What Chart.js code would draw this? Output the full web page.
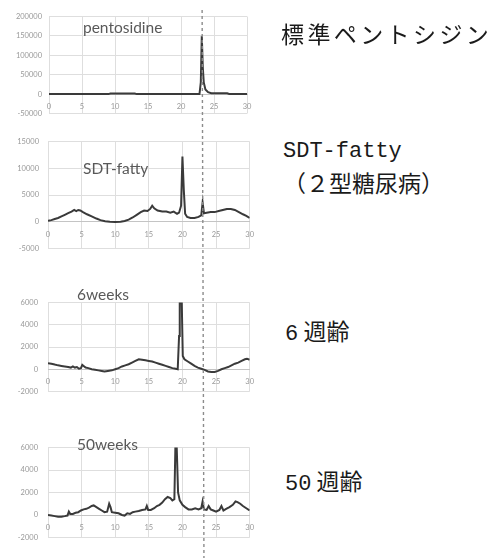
<!DOCTYPE html>
<html>
<head>
<meta charset="utf-8">
<script src="https://cdn.jsdelivr.net/npm/chart.js@4.4.1/dist/chart.umd.min.js"></script>
<style>
  body { margin: 0; background: #fff; width: 495px; height: 558px; position: relative; overflow: hidden; }
  .panel { position: absolute; left: 0; width: 262px; }
  .tag { position: absolute; font-family: Lato, "Open Sans", sans-serif; color: #595959; font-size: 15.5px; line-height: 1; white-space: nowrap; transform: translateY(-50%); }
  .label { position: absolute; font-family: "Liberation Mono", "Noto Sans CJK JP", monospace; font-size: 22px; color: #1a1a1a; line-height: 1; white-space: nowrap; transform: translateY(-50%); }
  .jp { font-family: "Noto Sans CJK JP", sans-serif; font-size: 23px; }
  #marker { position: absolute; left: 0; top: 0; pointer-events: none; }
</style>
</head>
<body>

<div class="panel" style="top:5px;height:120px"><canvas id="chart1"></canvas></div>
<div class="panel" style="top:128px;height:134px"><canvas id="chart2"></canvas></div>
<div class="panel" style="top:288px;height:118px"><canvas id="chart3"></canvas></div>
<div class="panel" style="top:433px;height:119px"><canvas id="chart4"></canvas></div>

<div class="tag" style="left:83px;top:28px">pentosidine</div>
<div class="tag" style="left:83px;top:169px">SDT-fatty</div>
<div class="tag" style="left:77px;top:295px">6weeks</div>
<div class="tag" style="left:77px;top:445px">50weeks</div>

<div class="label jp" style="left:281px;top:33px;letter-spacing:3.4px">標準ペントシジン</div>
<div class="label" style="left:283px;top:152px">SDT-fatty</div>
<div class="label jp" style="left:283px;top:182px">（２型糖尿病）</div>
<div class="label" style="left:285px;top:332px;word-spacing:-8px">6 <span class="jp">週齢</span></div>
<div class="label" style="left:285px;top:482px;word-spacing:-8px">50 <span class="jp">週齢</span></div>

<svg id="marker" width="495" height="558"></svg>

<script>
// retention time axis (minutes)
const timeTicks = [0, 5, 10, 15, 20, 25, 30];
const markerTime = 23.2;

// standard pentosidine
const pentoTime   = [0, 9, 9.3, 13, 13.3, 22.8, 23.0, 23.15, 23.3, 23.45, 23.7, 24.1, 24.6, 27.0, 27.3, 30];
const pentoSignal = [0, 0, 1500, 1500, 0, 0, 30000, 150000, 70000, 30000, 12000, 5000, 2500, 2000, 500, 0];
const pentoYTicks = [-50000, 0, 50000, 100000, 150000, 200000];

// SDT-fatty (type 2 diabetes)
const sdtTime = [0, 0.5, 1.0, 1.5, 2.0, 2.5, 3.0, 3.5, 3.9, 4.2, 4.5, 4.8, 5.2, 5.8, 6.5, 7.2, 7.8, 8.5, 9.2, 10.0,
  10.8, 11.4, 12.0, 12.6, 13.2, 13.8, 14.3, 14.8, 15.2, 15.5, 15.8, 16.3, 17.0, 17.6, 18.2, 18.7, 19.2, 19.5, 19.8, 20.0,
  20.2, 20.4, 20.7, 21.2, 21.8, 22.4, 22.8, 23.0, 23.2, 23.6, 24.2, 24.8, 25.4, 26.0, 26.6, 27.2, 27.8, 28.4, 29.0, 29.5, 30.0];
const sdtSignal = [200, 300, 500, 700, 1000, 1300, 1600, 1900, 2200, 2000, 2200, 2100, 1800, 1400, 1000, 600, 300, 100, 0, -50,
  0, 150, 400, 800, 1300, 1800, 2100, 2000, 2400, 3000, 2500, 2100, 1900, 1900, 1700, 1900, 1500, 1700, 3000, 12200,
  6000, 1500, 900, 700, 700, 900, 1200, 3600, 1600, 1700, 1800, 1800, 2000, 2200, 2400, 2400, 2200, 1800, 1400, 1100, 700];
const sdtYTicks = [-5000, 0, 5000, 10000, 15000];

// 6 weeks
const week6Time = [0, 0.5, 1.0, 1.5, 2.0, 2.5, 3.0, 3.4, 3.7, 4.0, 4.3, 4.6, 4.9, 5.1, 5.3, 5.6, 6.0, 6.5, 7.0, 7.5,
  8.0, 8.4, 8.9, 9.5, 10.0, 10.5, 11.0, 11.5, 12.0, 12.5, 13.0, 13.5, 14.0, 14.5, 15.0, 15.5, 16.0, 16.5, 17.0, 17.5,
  18.0, 18.5, 19.0, 19.3, 19.5, 19.6, 19.9, 20.05, 20.3, 20.8, 21.3, 21.8, 22.3, 22.8, 23.3, 23.8, 24.3, 24.8, 25.3, 25.8,
  26.3, 26.8, 27.3, 27.8, 28.3, 28.8, 29.3, 29.6, 30.0];
const week6Signal = [550, 500, 420, 350, 300, 250, 200, 150, 250, 150, 200, 50, 100, 400, 300, 150, 100, 0, -50, -100,
  -150, -200, -150, -100, 0, 100, 250, 350, 450, 600, 750, 900, 850, 800, 750, 700, 600, 500, 400, 300,
  200, 100, 50, 0, 3000, 6000, 6000, 1200, 900, 700, 500, 300, 150, 50, -50, -200, -250, -250, -150, 0,
  100, 200, 350, 500, 600, 750, 900, 950, 850];
const week6YTicks = [-2000, 0, 2000, 4000, 6000];

// 50 weeks
const week50Time = [0, 0.5, 1.0, 1.5, 2.0, 2.5, 2.9, 3.1, 3.3, 3.7, 4.1, 4.5, 4.9, 5.3, 5.7, 6.1, 6.5, 6.8, 7.2, 7.6,
  8.0, 8.4, 8.8, 9.1, 9.3, 9.5, 10.0, 10.5, 11.0, 11.4, 11.8, 12.2, 12.6, 13.0, 13.5, 14.0, 14.5, 14.7, 14.9, 15.3,
  15.8, 16.2, 16.6, 17.0, 17.4, 17.8, 18.2, 18.5, 18.8, 18.95, 19.15, 19.35, 19.6, 20.0, 20.4, 20.9, 21.4, 21.9, 22.4, 22.8,
  23.0, 23.2, 23.6, 23.9, 24.2, 24.6, 25.0, 25.5, 25.8, 26.1, 26.5, 27.0, 27.5, 27.9, 28.2, 28.6, 29.0, 29.5, 30.0];
const week50Signal = [0, -50, -100, -150, -150, -100, -50, 300, 100, 100, 200, 250, 400, 500, 550, 650, 800, 850, 700, 550,
  400, 250, 300, 1000, 700, 250, 200, 150, 0, -50, 150, 100, 250, 300, 350, 450, 500, 800, 450, 450,
  600, 800, 900, 1100, 1400, 1600, 1500, 1300, 1400, 6000, 6000, 2000, 1300, 900, 700, 500, 500, 600, 500, 600,
  1200, 500, 450, 800, 500, 400, 300, 450, 800, 400, 550, 700, 900, 1200, 1150, 1000, 800, 600, 400];
const week50YTicks = [-2000, 0, 2000, 4000, 6000];

function makeChart(id, times, signal, yTicks, left, right, yPad) {
  const ctx = document.getElementById(id).getContext('2d');
  const points = times.map((t, i) => ({ x: t, y: signal[i] }));

  return new Chart(ctx, {
    type: 'line',
    data: {
      datasets: [{
        data: points,
        borderColor: '#3a3a3a',
        borderWidth: 2,
        pointRadius: 0,
        tension: 0,
        fill: false
      }]
    },
    options: {
      responsive: true,
      maintainAspectRatio: false,
      animation: false,
      events: [],
      layout: { padding: { top: 10, bottom: 10, left: 0, right: 262 - right } },
      plugins: { legend: { display: false }, tooltip: { enabled: false } },
      scales: {
        x: {
          type: 'linear',
          position: { y: 0 },
          min: timeTicks[0],
          max: timeTicks[timeTicks.length - 1],
          afterFit: (scale) => { scale.height = 0; },
          afterBuildTicks: (scale) => { scale.ticks = timeTicks.map(v => ({ value: v })); },
          grid: { color: '#dedede', drawTicks: false },
          border: { display: true, color: '#c4c4c4' },
          ticks: {
            padding: 8,
            color: '#999999',
            font: { family: 'Lato', size: 7.5 },
            maxRotation: 0,
            callback: v => String(v)
          }
        },
        y: {
          min: yTicks[0],
          max: yTicks[yTicks.length - 1],
          afterFit: (scale) => { scale.width = left; },
          afterBuildTicks: (scale) => { scale.ticks = yTicks.map(v => ({ value: v })); },
          grid: {
            color: c => (c.tick && c.tick.value === 0) ? '#c4c4c4' : '#dedede',
            drawTicks: false
          },
          border: { display: false },
          ticks: {
            padding: yPad,
            color: '#999999',
            font: { family: 'Lato', size: 7.5 },
            callback: v => String(v)
          }
        }
      }
    }
  });
}

const charts = [
  makeChart('chart1', pentoTime, pentoSignal, pentoYTicks, 49, 247, 7),
  makeChart('chart2', sdtTime, sdtSignal, sdtYTicks, 48, 250, 9),
  makeChart('chart3', week6Time, week6Signal, week6YTicks, 48, 250, 10),
  makeChart('chart4', week50Time, week50Signal, week50YTicks, 48, 252, 10)
];

// dashed guide at the pentosidine retention time, through all panels
const topX = charts[0].scales.x.getPixelForValue(markerTime);
const bottomX = charts[3].scales.x.getPixelForValue(markerTime);
const svg = document.getElementById('marker');
const line = document.createElementNS('http://www.w3.org/2000/svg', 'line');
line.setAttribute('x1', topX);
line.setAttribute('y1', 10);
line.setAttribute('x2', bottomX);
line.setAttribute('y2', 558);
line.setAttribute('stroke', '#8c8c8c');
line.setAttribute('stroke-width', '1.4');
line.setAttribute('stroke-dasharray', '3,3');
svg.appendChild(line);
</script>
</body>
</html>
